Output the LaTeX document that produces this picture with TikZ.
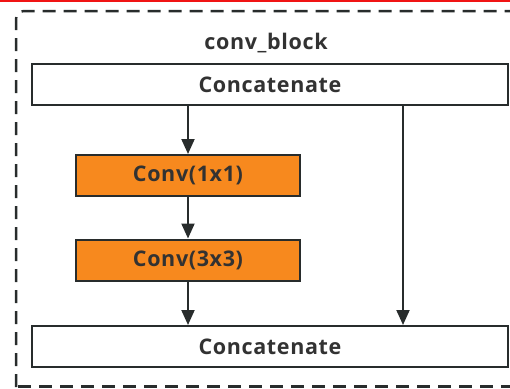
\documentclass[tikz,border=0pt]{standalone}
\usepackage{fontspec}
\setmainfont{Open Sans}[LetterSpace=3]
\usetikzlibrary{arrows.meta}
\definecolor{ink}{RGB}{40,44,44}
\definecolor{txt}{RGB}{50,50,50}
\definecolor{convorange}{RGB}{247,137,30}
\definecolor{topred}{RGB}{240,20,20}
\tikzset{
  lbl/.style={font=\fontsize{21.5}{24}\selectfont\bfseries, text=txt},
  blk/.style={lbl, draw=ink, line width=2pt, minimum height=41pt, inner sep=0pt},
  catbox/.style={blk, fill=white, minimum width=476pt},
  convbox/.style={blk, fill=convorange, minimum width=224pt},
  flow/.style={draw=ink, line width=2pt, -{Triangle[length=15pt,width=13pt]}},
}
\begin{document}
\begin{tikzpicture}[x=1pt,y=-1pt]
  \useasboundingbox (0,0) rectangle (510,388);
  % outer dashed frame, partly beyond the page edge
  \draw[ink, line width=2.5pt, dash pattern=on 13pt off 8pt, rounded corners=8pt]
    (16,387) -- (16,11) -- (520,11);
  \draw[ink, line width=2.5pt, dash pattern=on 13pt off 8pt]
    (18,386.5) -- (520,386.5);
  \fill[topred] (0,0) rectangle (510,1.8);
  \node[lbl] (title) at (266,43) {conv\_block};
  \node[catbox] (cin) at (270,84.5) {Concatenate};
  \node[convbox] (c1) at (188,175.5) {Conv(1x1)};
  \node[convbox] (c3) at (188,260) {Conv(3x3)};
  \node[catbox] (cout) at (270,346.5) {Concatenate};
  \coordinate (skipstart) at (403,84.5);
  \draw[flow] (cin.south -| c1.north) -- (c1.north);
  \draw[flow] (c1) -- (c3);
  \draw[flow] (c3.south) -- (c3.south |- cout.north);
  \draw[flow] (skipstart |- cin.south) -- (skipstart |- cout.north);
\end{tikzpicture}
\end{document}
